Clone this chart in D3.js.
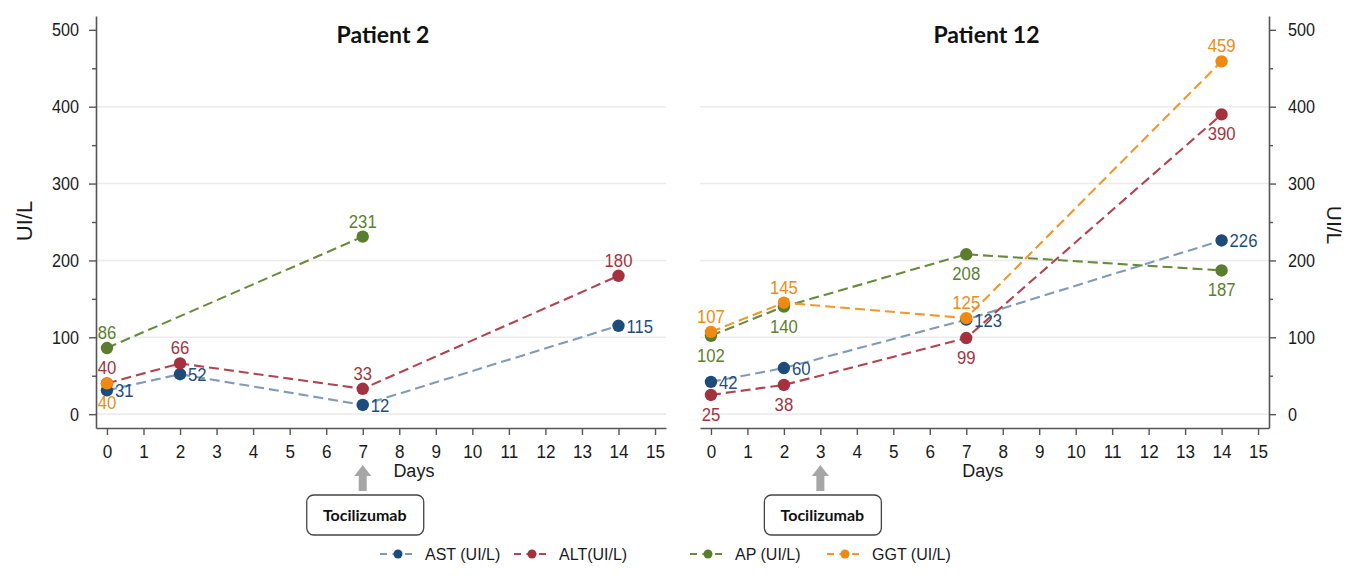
<!DOCTYPE html>
<html><head><meta charset="utf-8">
<script src="https://cdn.jsdelivr.net/npm/d3@7"></script>
<style>
html,body{margin:0;padding:0;background:#fff;}
svg{display:block;}
</style></head>
<body>
<svg id="chart" width="1348" height="580"></svg>
<script>
// ---------- DATA ----------
const days = [0, 2, 7, 14];
const seriesNames = ["AST (UI/L)", "ALT(UI/L)", "AP (UI/L)", "GGT (UI/L)"];
const p2_AST = [31, 52, 12, 115];
const p2_ALT = [40, 66, 33, 180];
const p2_AP  = [86, null, 231, null];
const p2_GGT = [40, null, null, null];
const p12_AST = [42, 60, 123, 226];
const p12_ALT = [25, 38, 99, 390];
const p12_AP  = [102, 140, 208, 187];
const p12_GGT = [107, 145, 125, 459];
const xTicks = d3.range(0, 16);
const yTicks = [0, 100, 200, 300, 400, 500];
const yMinor = [50, 150, 250, 350, 450];
const titles = ["Patient 2", "Patient 12"];
const treatmentDay = [7, 3];
const treatmentLabel = "Tocilizumab";
// label placement per series (style)
const p2_pos  = ["right", "above", "above", "below"];
const p12_pos = ["right", "below", "below", "above"];

// ---------- STYLE ----------
const markerColors = ["#1d4c7a", "#a3313e", "#5a7e2d", "#ee8a12"];
const lineColors   = ["#7f9bb8", "#b2434f", "#688a3c", "#f0982a"];
const labelColors  = ["#1f4e7c", "#a3343f", "#5b7f2e", "#ec8c18"];
const numFont = "'Liberation Sans', Arial, sans-serif";
const calFont = "Lato, 'Open Sans', sans-serif";

const svg = d3.select("#chart");

const panels = [
  {x0: 96, x1: 666, side: "left", data: [p2_AST, p2_ALT, p2_AP, p2_GGT], pos: p2_pos, title: titles[0], tday: treatmentDay[0], daysAt: 8.4},
  {x0: 700, x1: 1269, side: "right", data: [p12_AST, p12_ALT, p12_AP, p12_GGT], pos: p12_pos, title: titles[1], tday: treatmentDay[1], daysAt: 7.45}
];
const yTop = 16, yBot = 428;

panels.forEach(p => {
  const x = d3.scaleLinear().domain([-0.3, 15.3]).range([p.x0, p.x1]);
  const y = d3.scaleLinear().domain([-18, 518]).range([yBot, yTop]);
  const g = svg.append("g");

  // gridlines
  g.selectAll("line.grid").data(yTicks.filter(v => v < 500)).enter().append("line")
    .attr("x1", p.x0).attr("x2", p.x1)
    .attr("y1", d => y(d)).attr("y2", d => y(d))
    .attr("stroke", "#ececec").attr("stroke-width", 1.6);

  // y axis
  const axX = p.side === "left" ? p.x0 : p.x1;
  const yAxisGen = (p.side === "left" ? d3.axisLeft(y) : d3.axisRight(y))
      .tickValues(yTicks).tickSize(7).tickSizeOuter(0);
  const ya = g.append("g").attr("transform", `translate(${axX},0)`).call(yAxisGen);
  const yMinorGen = (p.side === "left" ? d3.axisLeft(y) : d3.axisRight(y))
      .tickValues(yMinor).tickSize(4).tickSizeOuter(0).tickFormat("");
  const ym = g.append("g").attr("transform", `translate(${axX},0)`).call(yMinorGen);
  ym.select(".domain").remove();
  [ya, ym].forEach(a => {
    a.selectAll("line").attr("stroke", "#555").attr("stroke-width", 1.4);
    a.select(".domain").attr("stroke", "#555").attr("stroke-width", 1.6);
  });
  ya.selectAll("text")
    .attr("font-family", numFont).attr("font-size", 18).attr("fill", "#1a1a1a")
    .attr("dy", 0).attr("y", 6)
    .attr("x", p.side === "left" ? -17 / 0.9 : 19 / 0.9)
    .attr("transform", "scale(0.9,1)");

  // x axis
  const xa = g.append("g").attr("transform", `translate(0,${yBot})`)
    .call(d3.axisBottom(x).tickValues(xTicks).tickSize(7).tickSizeOuter(0));
  xa.selectAll("line").attr("stroke", "#555").attr("stroke-width", 1.4);
  xa.select(".domain").attr("stroke", "#555").attr("stroke-width", 1.6);
  xa.selectAll("text")
    .attr("font-family", numFont).attr("font-size", 19).attr("fill", "#1a1a1a")
    .attr("dy", 0).attr("y", 30).attr("transform", "scale(0.9,1)")
    .attr("x", 0);

  // Days label
  g.append("text").attr("x", x(p.daysAt)).attr("y", 477)
    .attr("text-anchor", "middle").attr("font-family", numFont).attr("font-size", 18)
    .attr("fill", "#1a1a1a").text("Days");

  // Title
  g.append("text").attr("x", (p.x0 + p.x1) / 2 + 2).attr("y", 43)
    .attr("text-anchor", "middle").attr("font-family", calFont).attr("font-weight", 700)
    .attr("font-size", 23).attr("fill", "#111").text(p.title);

  // series
  p.data.forEach((vals, si) => {
    const pts = days.map((d, i) => ({d, v: vals[i]})).filter(o => o.v !== null);
    const line = d3.line().x(o => x(o.d)).y(o => y(o.v));
    g.append("path").datum(pts).attr("d", line)
      .attr("fill", "none").attr("stroke", lineColors[si]).attr("stroke-width", 2.1)
      .attr("stroke-dasharray", "10,5");
    g.selectAll(null).data(pts).enter().append("circle")
      .attr("cx", o => x(o.d)).attr("cy", o => y(o.v)).attr("r", 6.2)
      .attr("fill", markerColors[si]);
  });
  // labels
  p.data.forEach((vals, si) => {
    const pts = days.map((d, i) => ({d, v: vals[i]})).filter(o => o.v !== null);
    const pos = p.pos[si];
    g.selectAll(null).data(pts).enter().append("text")
      .attr("transform", o => {
        let tx = x(o.d), ty = y(o.v);
        if (pos === "right") { tx += 8; ty += 7; }
        else if (pos === "above") { ty -= 9; }
        else { ty += 26; }
        return `translate(${tx},${ty}) scale(0.88,1)`;
      })
      .attr("text-anchor", pos === "right" ? "start" : "middle")
      .attr("font-family", numFont).attr("font-size", 19)
      .attr("fill", labelColors[si]).text(o => o.v);
  });

  // treatment arrow
  const ax = x(p.tday);
  const arrow = d3.path();
  arrow.moveTo(ax, 465);
  arrow.lineTo(ax + 8.5, 476);
  arrow.lineTo(ax + 4, 476);
  arrow.lineTo(ax + 4, 491);
  arrow.lineTo(ax - 4, 491);
  arrow.lineTo(ax - 4, 476);
  arrow.lineTo(ax - 8.5, 476);
  arrow.closePath();
  g.append("path").attr("d", arrow.toString()).attr("fill", "#a6a6a6");
  g.append("rect").attr("x", ax - 56).attr("y", 495).attr("width", 117).attr("height", 40)
    .attr("rx", 7).attr("fill", "#fff").attr("stroke", "#444").attr("stroke-width", 1.3);
  g.append("text").attr("x", ax + 2).attr("y", 521).attr("text-anchor", "middle")
    .attr("font-family", calFont).attr("font-weight", 700).attr("font-size", 16)
    .attr("fill", "#111").text(treatmentLabel);
});

// y-axis titles
svg.append("text").attr("transform", "translate(32,221) rotate(-90)")
  .attr("text-anchor", "middle").attr("font-family", numFont).attr("font-size", 22)
  .attr("fill", "#1a1a1a").text("UI/L");
svg.append("text").attr("transform", "translate(1327,225) rotate(90)")
  .attr("text-anchor", "middle").attr("font-family", numFont).attr("font-size", 21)
  .attr("fill", "#1a1a1a").text("UI/L");

// legend
const legendX = [380, 514, 690, 827];
const lg = svg.append("g");
seriesNames.forEach((name, i) => {
  const lx = legendX[i], ly = 554;
  lg.append("line").attr("x1", lx).attr("x2", lx + 36).attr("y1", ly).attr("y2", ly)
    .attr("stroke", lineColors[i]).attr("stroke-width", 2).attr("stroke-dasharray", "7,5.5");
  lg.append("circle").attr("cx", lx + 18).attr("cy", ly).attr("r", 4.5).attr("fill", markerColors[i]);
  lg.append("text").attr("x", lx + 45).attr("y", ly + 6)
    .attr("font-family", numFont).attr("font-size", 16).attr("fill", "#1a1a1a").text(name);
});
</script>
</body></html>
